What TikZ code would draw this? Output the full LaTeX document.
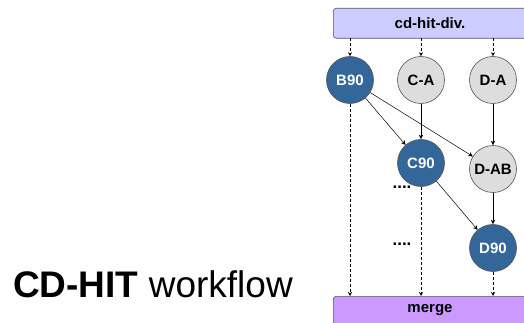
\documentclass[tikz,border=0pt]{standalone}
\usepackage{fontspec}
\setmainfont{Liberation Sans}
\usetikzlibrary{arrows.meta}
\definecolor{topbox}{HTML}{CCCCFF}
\definecolor{mergebox}{HTML}{CC99FF}
\definecolor{bluec}{HTML}{336699}
\definecolor{greyc}{HTML}{DDDDDD}
\definecolor{edgec}{HTML}{555555}
\begin{document}
\begin{tikzpicture}[x=1pt,y=-1pt,
  circ/.style={circle,draw=edgec,line width=0.6pt,minimum size=47pt,inner sep=0pt,font=\fontsize{15}{15}\selectfont\bfseries},
  bluenode/.style={circ,fill=bluec,text=white},
  greynode/.style={circ,fill=greyc,text=black},
  barbox/.style={draw=edgec,line width=0.6pt,rounded corners=3pt},
  barlabel/.style={font=\fontsize{15}{15}\selectfont\bfseries},
  darr/.style={densely dashed,line width=0.5pt,-{Stealth[length=4pt,width=4pt]}},
  sarr/.style={line width=0.5pt,-{Stealth[length=4.5pt,width=4.5pt]}},
  dots/.style={font=\fontsize{17}{17}\selectfont\bfseries}
]
\useasboundingbox (0,0) rectangle (524,323);
\begin{scope}
\clip (0,0) rectangle (524,323);
\node[barbox,fill=topbox,minimum width=195pt,minimum height=30pt,anchor=north west] (top) at (333,8) {};
\node[barbox,fill=mergebox,minimum width=195pt,minimum height=30pt,anchor=north west] (merge) at (333,296) {};
\end{scope}
\node[barlabel] (toplabel) at (430,23) {cd-hit-div.};
\node[barlabel] (mergelabel) at (430,310) {merge};

\node[bluenode] (B90) at (350,80) {B90};
\node[greynode] (CA) at (421,80) {C-A};
\node[greynode] (DA) at (493,80) {D-A};
\node[bluenode] (C90) at (421,163) {C90};
\node[greynode] (DAB) at (493,169) {D-AB};
\node[bluenode] (D90) at (493,248) {D90};

\coordinate (t1) at (350,38);
\coordinate (t2) at (421,38);
\coordinate (t3) at (493,38);
\coordinate (m1) at (350,296);
\coordinate (m2) at (421,296);
\coordinate (m3) at (493,296);

\draw[darr] (t1) -- (B90);
\draw[darr] (t2) -- (CA);
\draw[darr] (t3) -- (DA);
\draw[darr] (B90) -- (m1);
\draw[darr] (C90) -- (m2);
\draw[darr] (D90) -- (m3);

\draw[sarr] (B90) -- (C90);
\draw[sarr] (B90) -- (DAB);
\draw[sarr] (CA) -- (C90);
\draw[sarr] (DA) -- (DAB);
\draw[sarr] (DAB) -- (D90);
\draw[sarr] (C90) -- (D90);

\node[dots] (dots1) at (402,187) {....};
\node[dots] (dots2) at (402,244) {....};

\node[anchor=base west,inner sep=0pt,font=\fontsize{37}{37}\selectfont] (title) at (13,297) {\textbf{CD-HIT} workflow};
\end{tikzpicture}
\end{document}
